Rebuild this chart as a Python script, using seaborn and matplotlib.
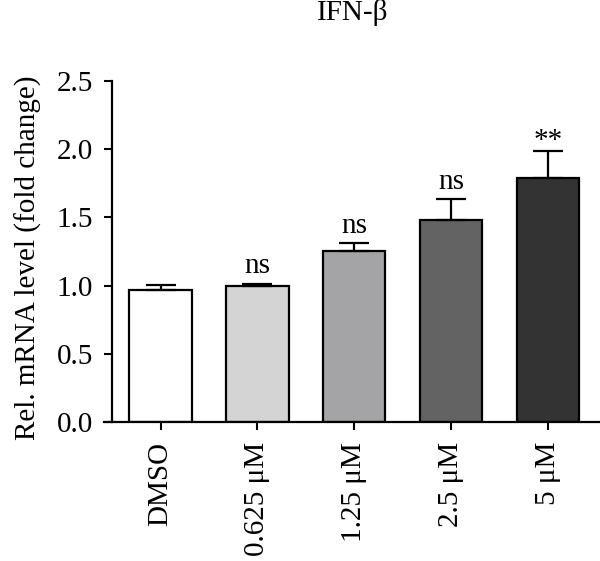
import matplotlib
matplotlib.use("Agg")
import matplotlib.pyplot as plt
import seaborn as sns
import pandas as pd
import numpy as np

categories = ["DMSO", "0.625 μM", "1.25 μM", "2.5 μM", "5 μM"]
values = [0.97, 0.995, 1.252, 1.478, 1.79]
errors = [0.037, 0.02, 0.062, 0.157, 0.20]
labels = ["", "ns", "ns", "ns", "**"]
colors = ["#ffffff", "#d4d4d4", "#a4a4a6", "#636363", "#333333"]

sns.set_theme(style="ticks")
plt.rcParams["font.family"] = ["Liberation Serif", "DejaVu Serif"]

FS = 21

df = pd.DataFrame({"cond": categories, "val": values})

fig = plt.figure(figsize=(6.0, 5.61), dpi=100)
ax = fig.add_axes([0.1867, 0.2478, 0.8113, 0.6078])

sns.barplot(data=df, x="cond", y="val", hue="cond", palette=colors,
            order=categories, hue_order=categories, legend=False,
            width=0.64, edgecolor="black", linewidth=1.6, ax=ax, errorbar=None)

xs = np.arange(len(categories))
ax.errorbar(xs, values, yerr=[np.zeros(len(values)), errors], fmt="none",
            ecolor="black", elinewidth=1.6, capsize=11, capthick=1.6, zorder=3)

for x, v, e, lab in zip(xs, values, errors, labels):
    if not lab:
        continue
    off = 0.075 if lab == "ns" else 0.02
    ax.text(x, v + e + off, lab, ha="center", va="baseline", fontsize=FS,
            color="black")

ax.set_xlim(-0.5, 4.52)
ax.set_ylim(0, 2.5)
ax.set_yticks([0, 0.5, 1.0, 1.5, 2.0, 2.5])
ax.set_yticklabels(["0.0", "0.5", "1.0", "1.5", "2.0", "2.5"])
ax.set_xlabel("")
ax.set_ylabel("Rel. mRNA level (fold change)", fontsize=FS, color="black")
ax.yaxis.set_label_coords(-0.143, 0.481)
ax.tick_params(axis="both", labelsize=FS, colors="black", width=1.5, length=5.5)
ax.tick_params(axis="y", pad=8)
ax.tick_params(axis="x", labelrotation=90, pad=9)
for s in ["top", "right"]:
    ax.spines[s].set_visible(False)
for s in ["left", "bottom"]:
    ax.spines[s].set_linewidth(1.6)
    ax.spines[s].set_color("black")
ax.spines["bottom"].set_bounds(-0.58, 4.52)

fig.text(0.588, 0.977, "IFN-β", ha="center", va="center", fontsize=FS, color="black")

fig.savefig("out.png", dpi=100)
